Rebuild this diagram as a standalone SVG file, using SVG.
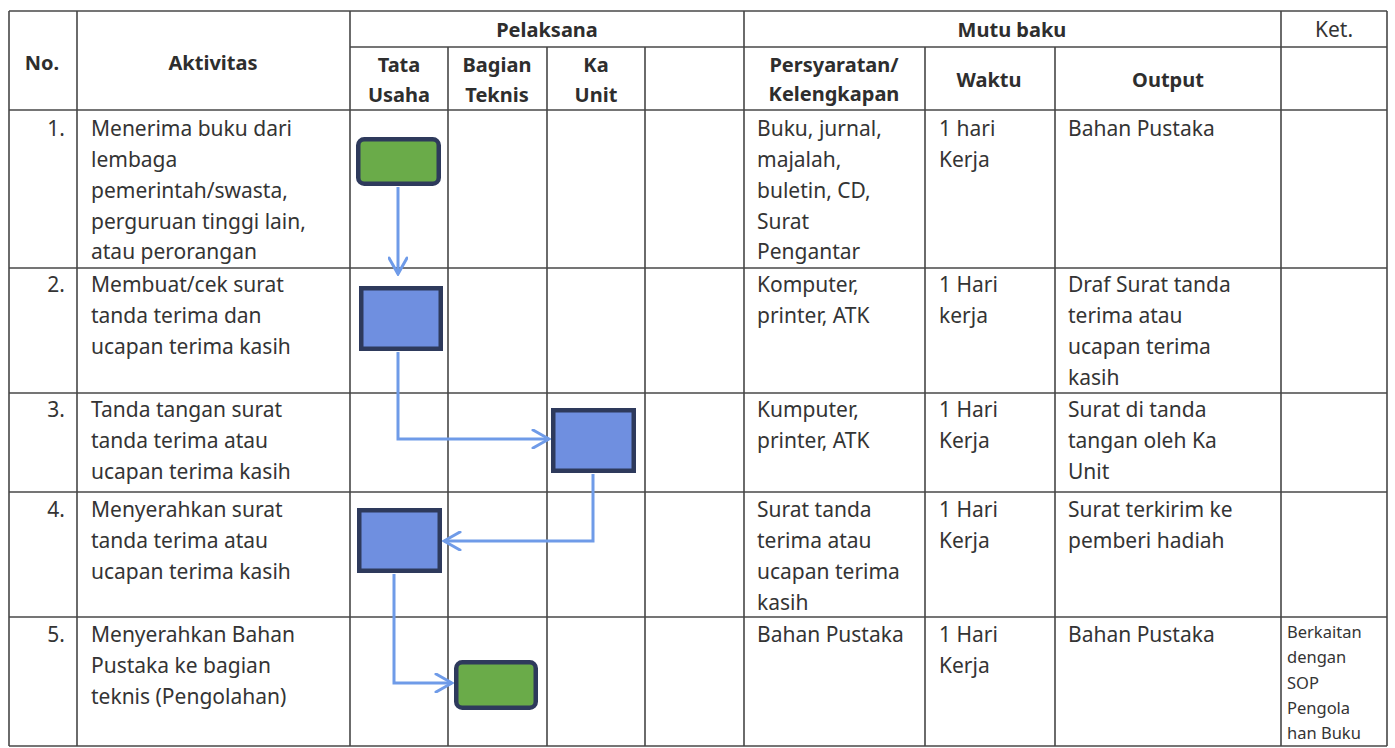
<svg xmlns="http://www.w3.org/2000/svg" width="1395" height="748" viewBox="0 0 1395 748">
<style>
.grid line{stroke:#474747;stroke-width:1.6}
.h{font-family:"Noto Sans","Open Sans",sans-serif;font-weight:bold;font-size:20px;fill:#2e2e2e;text-anchor:middle}
.t{font-family:"Noto Sans","Open Sans",sans-serif;font-size:21px;fill:#343434}
.n{font-family:"Noto Sans","Open Sans",sans-serif;font-size:21px;fill:#343434;text-anchor:end}
.k{font-family:"Noto Sans","Open Sans",sans-serif;font-size:16.5px;fill:#343434}
.blue{fill:#6f8fe0;stroke:#2e3a5c;stroke-width:4.5}
.green{fill:#6aab49;stroke:#2e3a5c;stroke-width:4.5}
.conn path{fill:none;stroke:#6f9be8;stroke-width:3}
</style>
<defs>
<marker id="ah" viewBox="0 0 20 20" refX="18" refY="10" markerWidth="20" markerHeight="20" markerUnits="userSpaceOnUse" orient="auto">
<path d="M2,1 L18,10 L2,19" fill="none" stroke="#6f9be8" stroke-width="3" stroke-linecap="round"/>
</marker>
</defs>
<rect width="1395" height="748" fill="#ffffff"/>
<g class="grid">
<line x1="9" y1="11" x2="1387" y2="11"/>
<line x1="350" y1="47" x2="1387" y2="47"/>
<line x1="9" y1="110" x2="1387" y2="110"/>
<line x1="9" y1="268" x2="1387" y2="268"/>
<line x1="9" y1="393" x2="1387" y2="393"/>
<line x1="9" y1="492" x2="1387" y2="492"/>
<line x1="9" y1="617" x2="1387" y2="617"/>
<line x1="9" y1="746" x2="1387" y2="746"/>
<line x1="9" y1="11" x2="9" y2="746"/>
<line x1="77" y1="11" x2="77" y2="746"/>
<line x1="350" y1="11" x2="350" y2="746"/>
<line x1="448" y1="47" x2="448" y2="746"/>
<line x1="547" y1="47" x2="547" y2="746"/>
<line x1="645" y1="47" x2="645" y2="746"/>
<line x1="744" y1="11" x2="744" y2="746"/>
<line x1="925" y1="47" x2="925" y2="746"/>
<line x1="1055" y1="47" x2="1055" y2="746"/>
<line x1="1281" y1="11" x2="1281" y2="746"/>
<line x1="1387" y1="11" x2="1387" y2="746"/>
</g>
<g id="header">
<text class="h" x="42" y="70">No.</text>
<text class="h" x="213" y="70">Aktivitas</text>
<text class="h" x="547" y="37">Pelaksana</text>
<text class="h" x="1012" y="37">Mutu baku</text>
<text class="t" x="1334" y="37" text-anchor="middle" font-size="22">Ket.</text>
<text class="h" x="399" y="72">Tata</text>
<text class="h" x="399" y="102">Usaha</text>
<text class="h" x="497" y="72">Bagian</text>
<text class="h" x="497" y="102">Teknis</text>
<text class="h" x="596" y="72">Ka</text>
<text class="h" x="596" y="102">Unit</text>
<text class="h" x="834" y="72">Persyaratan/</text>
<text class="h" x="834" y="101">Kelengkapan</text>
<text class="h" x="989" y="87">Waktu</text>
<text class="h" x="1168" y="87">Output</text>
</g>
<g id="row1">
<text class="n" x="65" y="136">1.</text>
<text class="t" x="91" y="136">Menerima buku dari</text>
<text class="t" x="91" y="167">lembaga</text>
<text class="t" x="91" y="198">pemerintah/swasta,</text>
<text class="t" x="91" y="229">perguruan tinggi lain,</text>
<text class="t" x="91" y="259">atau perorangan</text>
<text class="t" x="757" y="136">Buku, jurnal,</text>
<text class="t" x="757" y="167">majalah,</text>
<text class="t" x="757" y="198">buletin, CD,</text>
<text class="t" x="757" y="229">Surat</text>
<text class="t" x="757" y="259">Pengantar</text>
<text class="t" x="939" y="136">1 hari</text>
<text class="t" x="939" y="167">Kerja</text>
<text class="t" x="1068" y="136">Bahan Pustaka</text>
</g>
<g id="row2">
<text class="n" x="65" y="292">2.</text>
<text class="t" x="91" y="292">Membuat/cek surat</text>
<text class="t" x="91" y="323">tanda terima dan</text>
<text class="t" x="91" y="354">ucapan terima kasih</text>
<text class="t" x="757" y="292">Komputer,</text>
<text class="t" x="757" y="323">printer, ATK</text>
<text class="t" x="939" y="292">1 Hari</text>
<text class="t" x="939" y="323">kerja</text>
<text class="t" x="1068" y="292">Draf Surat tanda</text>
<text class="t" x="1068" y="323">terima atau</text>
<text class="t" x="1068" y="354">ucapan terima</text>
<text class="t" x="1068" y="385">kasih</text>
</g>
<g id="row3">
<text class="n" x="65" y="417">3.</text>
<text class="t" x="91" y="417">Tanda tangan surat</text>
<text class="t" x="91" y="448">tanda terima atau</text>
<text class="t" x="91" y="479">ucapan terima kasih</text>
<text class="t" x="757" y="417">Kumputer,</text>
<text class="t" x="757" y="448">printer, ATK</text>
<text class="t" x="939" y="417">1 Hari</text>
<text class="t" x="939" y="448">Kerja</text>
<text class="t" x="1068" y="417">Surat di tanda</text>
<text class="t" x="1068" y="448">tangan oleh Ka</text>
<text class="t" x="1068" y="479">Unit</text>
</g>
<g id="row4">
<text class="n" x="65" y="517">4.</text>
<text class="t" x="91" y="517">Menyerahkan surat</text>
<text class="t" x="91" y="548">tanda terima atau</text>
<text class="t" x="91" y="579">ucapan terima kasih</text>
<text class="t" x="757" y="517">Surat tanda</text>
<text class="t" x="757" y="548">terima atau</text>
<text class="t" x="757" y="579">ucapan terima</text>
<text class="t" x="757" y="610">kasih</text>
<text class="t" x="939" y="517">1 Hari</text>
<text class="t" x="939" y="548">Kerja</text>
<text class="t" x="1068" y="517">Surat terkirim ke</text>
<text class="t" x="1068" y="548">pemberi hadiah</text>
</g>
<g id="row5">
<text class="n" x="65" y="642">5.</text>
<text class="t" x="91" y="642">Menyerahkan Bahan</text>
<text class="t" x="91" y="673">Pustaka ke bagian</text>
<text class="t" x="91" y="704">teknis (Pengolahan)</text>
<text class="t" x="757" y="642">Bahan Pustaka</text>
<text class="t" x="939" y="642">1 Hari</text>
<text class="t" x="939" y="673">Kerja</text>
<text class="t" x="1068" y="642">Bahan Pustaka</text>
<text class="k" x="1287" y="638">Berkaitan</text>
<text class="k" x="1287" y="663">dengan</text>
<text class="k" x="1287" y="689">SOP</text>
<text class="k" x="1287" y="714">Pengola</text>
<text class="k" x="1287" y="739">han Buku</text>
</g>
<g class="conn" id="connectors">
<path d="M398,187 V274" marker-end="url(#ah)"/>
<path d="M398,352 V439 H549" marker-end="url(#ah)"/>
<path d="M593,474 V541 H444" marker-end="url(#ah)"/>
<path d="M394,574 V683 H452" marker-end="url(#ah)"/>
</g>
<g id="node1"><rect class="green" x="358.25" y="139.25" width="80.5" height="44.5" rx="6"/></g>
<g id="node2"><rect class="blue" x="361.25" y="288.25" width="79.5" height="60.5"/></g>
<g id="node3"><rect class="blue" x="553.25" y="410.25" width="80.5" height="60.5"/></g>
<g id="node4"><rect class="blue" x="359.25" y="510.25" width="80.5" height="60.5"/></g>
<g id="node5"><rect class="green" x="456.25" y="662.25" width="79.5" height="45.5" rx="6"/></g>
</svg>
